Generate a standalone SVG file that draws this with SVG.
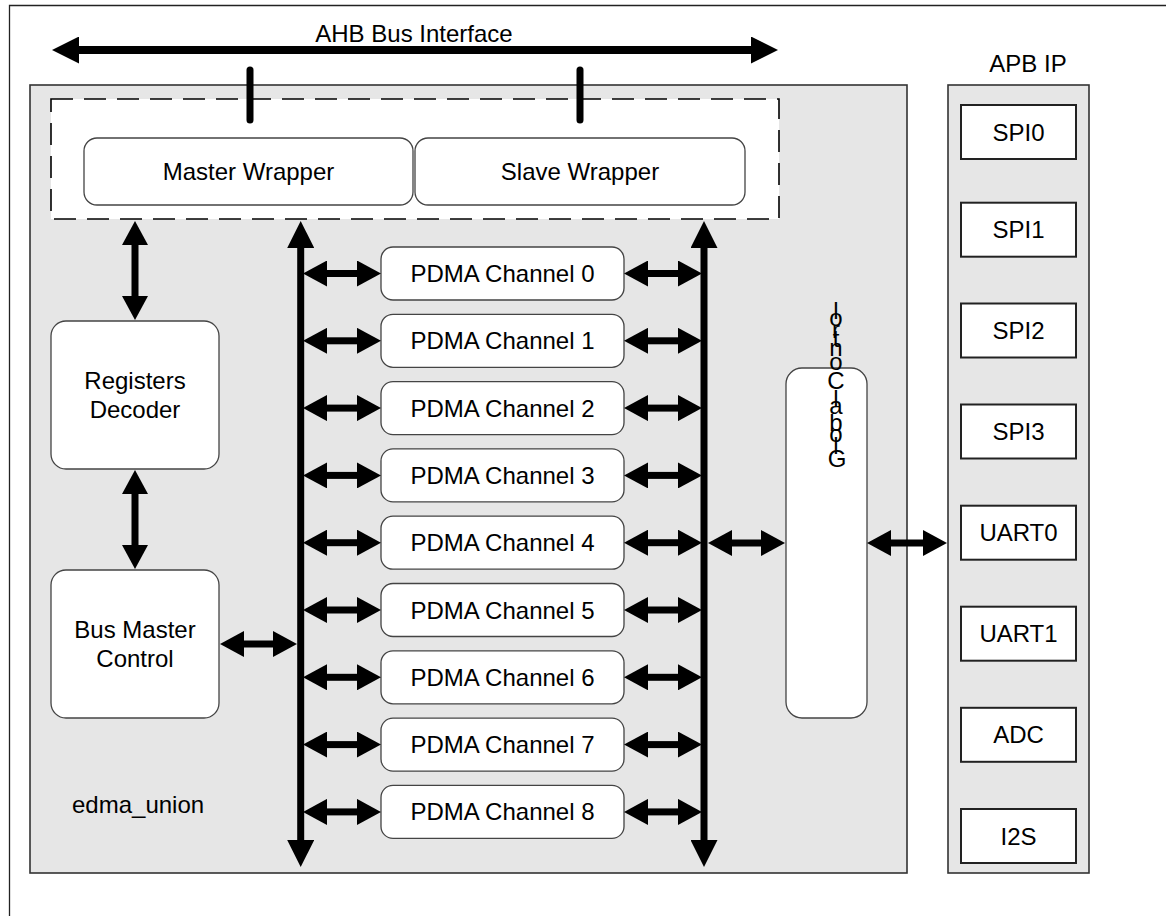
<svg xmlns="http://www.w3.org/2000/svg" width="1166" height="916" viewBox="0 0 1166 916">
<style>
text{font-family:"Liberation Sans",Arial,sans-serif;font-size:24px;fill:#000}
.c{text-anchor:middle}
.rb{fill:#fff;stroke:#444;stroke-width:1.3}
.sq{fill:#fff;stroke:#222;stroke-width:2}
.gray{fill:#e6e6e6;stroke:#333;stroke-width:1.6}
.ar{stroke:#000;stroke-width:7;fill:none;marker-start:url(#ah);marker-end:url(#ah)}
.bus{stroke:#000;stroke-width:7;fill:none;marker-start:url(#bh);marker-end:url(#bh)}
.tick{stroke:#000;stroke-width:7;stroke-linecap:round}
</style>
<defs>
<marker id="ah" markerUnits="userSpaceOnUse" markerWidth="24" markerHeight="26" viewBox="0 0 24 26" refX="0" refY="13" orient="auto-start-reverse"><path d="M0,0 L24,13 L0,26 z" fill="#000"/></marker>
<marker id="bh" markerUnits="userSpaceOnUse" markerWidth="27" markerHeight="27" viewBox="0 0 27 27" refX="0" refY="13.5" orient="auto-start-reverse"><path d="M0,0 L27,13.5 L0,27 z" fill="#000"/></marker>
</defs>
<rect width="1166" height="916" fill="#fff"/>
<path d="M9.5,916 V5.5 H1166" fill="none" stroke="#222" stroke-width="1.3"/>

<g id="edma_union">
<rect class="gray" x="30" y="85" width="877" height="788"/>
<text x="72" y="813">edma_union</text>
</g>
<g id="wrapper_group">
<rect x="51" y="99" width="728" height="120" fill="#fff" stroke="#000" stroke-width="1.6" stroke-dasharray="22 11"/>
</g>
<g id="apb_ip">
<rect class="gray" x="948" y="85" width="141" height="788"/>
<text class="c" x="1028" y="72">APB IP</text>
</g>

<g id="master_wrapper"><rect class="rb" x="84" y="138" width="329" height="67" rx="13"/><text class="c" x="248.5" y="180">Master Wrapper</text></g>
<g id="slave_wrapper"><rect class="rb" x="415" y="138" width="330" height="67" rx="13"/><text class="c" x="580" y="180">Slave Wrapper</text></g>
<g id="registers_decoder"><rect class="rb" x="51" y="321" width="168" height="148" rx="15"/><text class="c" x="135" y="389">Registers</text><text class="c" x="135" y="418">Decoder</text></g>
<g id="bus_master_control"><rect class="rb" x="51" y="570" width="168" height="148" rx="15"/><text class="c" x="135" y="638">Bus Master</text><text class="c" x="135" y="667">Control</text></g>

<g id="pdma0"><rect class="rb" x="381" y="247" width="243" height="53" rx="12"/><text class="c" x="502.5" y="282">PDMA Channel 0</text></g>
<g id="pdma1"><rect class="rb" x="381" y="314.3" width="243" height="53" rx="12"/><text class="c" x="502.5" y="349.3">PDMA Channel 1</text></g>
<g id="pdma2"><rect class="rb" x="381" y="381.6" width="243" height="53" rx="12"/><text class="c" x="502.5" y="416.6">PDMA Channel 2</text></g>
<g id="pdma3"><rect class="rb" x="381" y="448.9" width="243" height="53" rx="12"/><text class="c" x="502.5" y="483.9">PDMA Channel 3</text></g>
<g id="pdma4"><rect class="rb" x="381" y="516.2" width="243" height="53" rx="12"/><text class="c" x="502.5" y="551.2">PDMA Channel 4</text></g>
<g id="pdma5"><rect class="rb" x="381" y="583.5" width="243" height="53" rx="12"/><text class="c" x="502.5" y="618.5">PDMA Channel 5</text></g>
<g id="pdma6"><rect class="rb" x="381" y="650.8" width="243" height="53" rx="12"/><text class="c" x="502.5" y="685.8">PDMA Channel 6</text></g>
<g id="pdma7"><rect class="rb" x="381" y="718.1" width="243" height="53" rx="12"/><text class="c" x="502.5" y="753.1">PDMA Channel 7</text></g>
<g id="pdma8"><rect class="rb" x="381" y="785.4" width="243" height="53" rx="12"/><text class="c" x="502.5" y="820.4">PDMA Channel 8</text></g>

<g id="global_control">
<rect class="rb" x="786" y="368" width="81" height="350" rx="16"/>
<text class="c" x="836" y="318.7">l</text>
<text class="c" x="836" y="326.3">o</text>
<text class="c" x="836" y="337.5">r</text>
<text class="c" x="836" y="346.8">t</text>
<text class="c" x="836" y="355.7">n</text>
<text class="c" x="836" y="369.7">o</text>
<text class="c" x="836" y="388.5">C</text>
<text class="c" x="836" y="406.8">l</text>
<text class="c" x="836" y="414.4">a</text>
<text class="c" x="836" y="430.6">b</text>
<text class="c" x="836" y="442.4">o</text>
<text class="c" x="836" y="454.3">l</text>
<text class="c" x="837" y="467">G</text>
</g>

<g id="spi0"><rect class="sq" x="961" y="105" width="115" height="54"/><text class="c" x="1018.5" y="140.5">SPI0</text></g>
<g id="spi1"><rect class="sq" x="961" y="202.7" width="115" height="54"/><text class="c" x="1018.5" y="238.2">SPI1</text></g>
<g id="spi2"><rect class="sq" x="961" y="303.5" width="115" height="54"/><text class="c" x="1018.5" y="339">SPI2</text></g>
<g id="spi3"><rect class="sq" x="961" y="404.5" width="115" height="54"/><text class="c" x="1018.5" y="440">SPI3</text></g>
<g id="uart0"><rect class="sq" x="961" y="505.7" width="115" height="54"/><text class="c" x="1018.5" y="541.2">UART0</text></g>
<g id="uart1"><rect class="sq" x="961" y="606.7" width="115" height="54"/><text class="c" x="1018.5" y="642.2">UART1</text></g>
<g id="adc"><rect class="sq" x="961" y="707.8" width="115" height="54"/><text class="c" x="1018.5" y="743.3">ADC</text></g>
<g id="i2s"><rect class="sq" x="961" y="809" width="115" height="54"/><text class="c" x="1018.5" y="844.5">I2S</text></g>

<g id="ahb_bus">
<line class="bus" x1="79" y1="50" x2="751" y2="50" style="stroke-width:8"/>
<text class="c" x="414" y="41.5">AHB Bus Interface</text>
</g>

<g id="connectors">
<line class="tick" x1="250" y1="70" x2="250" y2="120"/>
<line class="tick" x1="580" y1="70" x2="580" y2="120"/>
<line class="bus" x1="300.7" y1="248" x2="300.7" y2="840"/>
<line class="bus" x1="704" y1="248" x2="704" y2="840"/>
<line class="ar" x1="135" y1="245" x2="135" y2="296"/>
<line class="ar" x1="135" y1="494" x2="135" y2="545"/>
<line class="ar" x1="244" y1="644" x2="273" y2="644"/>
<line class="ar" x1="327" y1="273.5" x2="357" y2="273.5"/>
<line class="ar" x1="327" y1="340.8" x2="357" y2="340.8"/>
<line class="ar" x1="327" y1="408.1" x2="357" y2="408.1"/>
<line class="ar" x1="327" y1="475.4" x2="357" y2="475.4"/>
<line class="ar" x1="327" y1="542.7" x2="357" y2="542.7"/>
<line class="ar" x1="327" y1="610" x2="357" y2="610"/>
<line class="ar" x1="327" y1="677.3" x2="357" y2="677.3"/>
<line class="ar" x1="327" y1="744.6" x2="357" y2="744.6"/>
<line class="ar" x1="327" y1="811.9" x2="357" y2="811.9"/>
<line class="ar" x1="648" y1="273.5" x2="678" y2="273.5"/>
<line class="ar" x1="648" y1="340.8" x2="678" y2="340.8"/>
<line class="ar" x1="648" y1="408.1" x2="678" y2="408.1"/>
<line class="ar" x1="648" y1="475.4" x2="678" y2="475.4"/>
<line class="ar" x1="648" y1="542.7" x2="678" y2="542.7"/>
<line class="ar" x1="648" y1="610" x2="678" y2="610"/>
<line class="ar" x1="648" y1="677.3" x2="678" y2="677.3"/>
<line class="ar" x1="648" y1="744.6" x2="678" y2="744.6"/>
<line class="ar" x1="648" y1="811.9" x2="678" y2="811.9"/>
<line class="ar" x1="732" y1="543" x2="761" y2="543"/>
<line class="ar" x1="891" y1="543" x2="923" y2="543"/>
</g>
</svg>
